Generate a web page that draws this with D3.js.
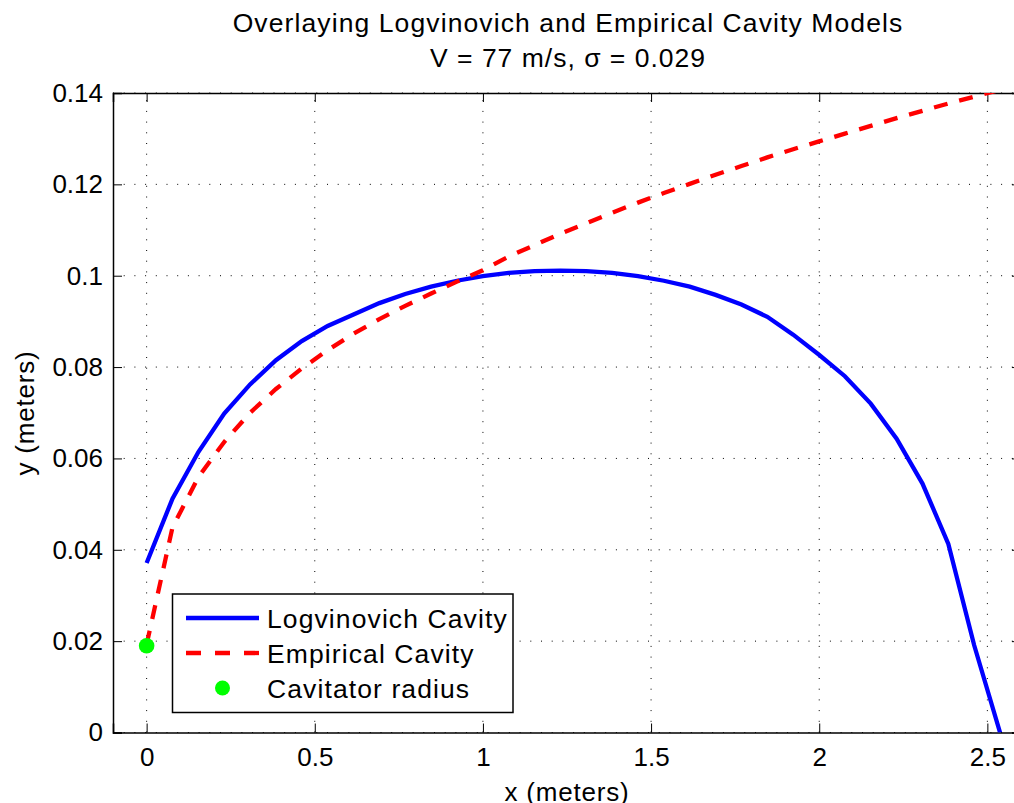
<!DOCTYPE html>
<html>
<head>
<meta charset="utf-8">
<script src="https://d3js.org/d3.v7.min.js"></script>
<style>
  body { margin: 0; background: #fff; }
  text { font-family: "Liberation Sans", Arial, Helvetica, sans-serif; fill: #000; }
</style>
</head>
<body>
<div id="chart"></div>
<script>
// x positions along the cavity (m)
var xVals = [0, 0.0769, 0.1538, 0.2307, 0.3076, 0.3845, 0.4614, 0.5383, 0.6152, 0.6921,
  0.769, 0.8459, 0.9228, 0.9997, 1.0766, 1.1535, 1.2304, 1.3073, 1.3842, 1.4611,
  1.538, 1.6149, 1.6918, 1.7687, 1.8456, 1.9225, 1.9994, 2.0763, 2.1532, 2.2301,
  2.307, 2.3839, 2.4608, 2.5377];

var logvinovich = [0.0371, 0.0512, 0.0614, 0.0698, 0.0762, 0.0815, 0.0857, 0.0890, 0.0915, 0.0940,
  0.0960, 0.0976, 0.0989, 0.0999, 0.1006, 0.1010, 0.1011, 0.1010, 0.1006, 0.0999,
  0.0989, 0.0976, 0.0958, 0.0937, 0.0910, 0.0871, 0.0827, 0.0780, 0.0720, 0.0643,
  0.0545, 0.0413, 0.0191, 0.0];

var empirical = [0.0193, 0.0449, 0.0559, 0.0636, 0.0700, 0.0752, 0.0797, 0.0837, 0.0873, 0.0905,
  0.0934, 0.0961, 0.0987, 0.1012, 0.1042, 0.1067, 0.1092, 0.1115, 0.1138, 0.1160,
  0.1181, 0.1201, 0.1221, 0.1240, 0.1259, 0.1277, 0.1294, 0.1311, 0.1328, 0.1345,
  0.1361, 0.1377, 0.1392, 0.1407];

var cavitator = [{x: 0, y: 0.019}];

var xTicks = [0, 0.5, 1, 1.5, 2, 2.5];
var xTickLabels = ["0", "0.5", "1", "1.5", "2", "2.5"];
var yTicks = [0, 0.02, 0.04, 0.06, 0.08, 0.1, 0.12, 0.14];
var yTickLabels = ["0", "0.02", "0.04", "0.06", "0.08", "0.1", "0.12", "0.14"];

var svgWidth = 1014;
var svgHeight = 803;

var svg = d3.select("#chart")
  .append("svg")
  .attr("width", svgWidth)
  .attr("height", svgHeight);

// axes box runs past the right edge of the picture, like the original
var x = d3.scaleLinear().domain([-0.1, 2.6]).range([113, 1021]);
var y = d3.scaleLinear().domain([0, 0.14]).range([732.5, 93]);

svg.append("defs").append("clipPath")
  .attr("id", "plotClip")
  .append("rect")
  .attr("x", x(-0.1))
  .attr("y", y(0.14))
  .attr("width", x(2.6) - x(-0.1))
  .attr("height", y(0) - y(0.14));

// dotted grid
var grid = svg.append("g").attr("class", "grid");
grid.selectAll("line.gx")
  .data(xTicks)
  .enter()
  .append("line")
  .attr("x1", d => x(d))
  .attr("x2", d => x(d))
  .attr("y1", y(0))
  .attr("y2", y(0.14))
  .attr("stroke", "#000")
  .attr("stroke-width", 1)
  .attr("stroke-dasharray", "1,9.7");
grid.selectAll("line.gy")
  .data(yTicks)
  .enter()
  .append("line")
  .attr("x1", x(-0.1))
  .attr("x2", x(2.6))
  .attr("y1", d => y(d))
  .attr("y2", d => y(d))
  .attr("stroke", "#000")
  .attr("stroke-width", 1)
  .attr("stroke-dasharray", "1,9.7");

// axes with inward ticks on all sides
var bottomAxis = d3.axisBottom(x).tickValues(xTicks).tickSize(-9).tickPadding(15)
  .tickFormat((d, i) => xTickLabels[i]);
var topAxis = d3.axisTop(x).tickValues(xTicks).tickSize(-9).tickFormat("");
var leftAxis = d3.axisLeft(y).tickValues(yTicks).tickSize(-9).tickPadding(10)
  .tickFormat((d, i) => yTickLabels[i]);
var rightAxis = d3.axisRight(y).tickValues(yTicks).tickSize(-9).tickFormat("");

svg.append("g").attr("transform", `translate(0, ${y(0)})`).call(bottomAxis);
svg.append("g").attr("transform", `translate(0, ${y(0.14)})`).call(topAxis);
svg.append("g").attr("transform", `translate(${x(-0.1)}, 0)`).call(leftAxis);
svg.append("g").attr("transform", `translate(${x(2.6)}, 0)`).call(rightAxis);

svg.selectAll(".domain").attr("stroke", "#000").attr("stroke-width", 1.5);
svg.selectAll(".tick line").attr("stroke", "#000").attr("stroke-width", 1);
svg.selectAll(".tick text")
  .attr("font-size", 26)
  .attr("font-family", "Liberation Sans, Arial, sans-serif")
  .attr("fill", "#000");

// curves
var plot = svg.append("g").attr("clip-path", "url(#plotClip)");

var line = d3.line()
  .x(d => x(d[0]))
  .y(d => y(d[1]));

plot.append("path")
  .datum(d3.zip(xVals, logvinovich))
  .attr("d", line)
  .attr("fill", "none")
  .attr("stroke", "#0000ff")
  .attr("stroke-width", 4.3);

plot.append("path")
  .datum(d3.zip(xVals, empirical))
  .attr("d", line)
  .attr("fill", "none")
  .attr("stroke", "#ff0000")
  .attr("stroke-width", 4.3)
  .attr("stroke-dasharray", "14,12");

plot.selectAll("circle")
  .data(cavitator)
  .enter()
  .append("circle")
  .attr("cx", d => x(d.x))
  .attr("cy", d => y(d.y))
  .attr("r", 7.8)
  .attr("fill", "#00ff00");

// legend
var legend = svg.append("g");
legend.append("rect")
  .attr("x", 172.5)
  .attr("y", 594)
  .attr("width", 340.5)
  .attr("height", 118.5)
  .attr("fill", "#fff")
  .attr("stroke", "#000")
  .attr("stroke-width", 1.5);

var legendItems = ["Logvinovich Cavity", "Empirical Cavity", "Cavitator radius"];
var legendRows = [618, 653, 688];

legend.append("line")
  .attr("x1", 186).attr("x2", 259)
  .attr("y1", legendRows[0]).attr("y2", legendRows[0])
  .attr("stroke", "#0000ff").attr("stroke-width", 4.3);
legend.append("line")
  .attr("x1", 186).attr("x2", 259)
  .attr("y1", legendRows[1]).attr("y2", legendRows[1])
  .attr("stroke", "#ff0000").attr("stroke-width", 4.3)
  .attr("stroke-dasharray", "15,14");
legend.append("circle")
  .attr("cx", 222.5).attr("cy", legendRows[2])
  .attr("r", 7.5).attr("fill", "#00ff00");

legend.selectAll("text")
  .data(legendItems)
  .enter()
  .append("text")
  .attr("x", 267)
  .attr("y", (d, i) => legendRows[i])
  .attr("dy", "0.36em")
  .attr("font-size", 26.5)
  .attr("letter-spacing", 1.1)
  .text(d => d);

// title and axis labels
svg.append("text")
  .attr("x", 568)
  .attr("y", 32)
  .attr("text-anchor", "middle")
  .attr("font-size", 26.5)
  .attr("letter-spacing", 1.1)
  .text("Overlaying Logvinovich and Empirical Cavity Models");

svg.append("text")
  .attr("x", 568)
  .attr("y", 67)
  .attr("text-anchor", "middle")
  .attr("font-size", 26.5)
  .attr("letter-spacing", 1)
  .text("V = 77 m/s, \u03c3 = 0.029");

svg.append("text")
  .attr("x", 567)
  .attr("y", 801)
  .attr("text-anchor", "middle")
  .attr("font-size", 26)
  .attr("letter-spacing", 0.8)
  .text("x (meters)");

svg.append("text")
  .attr("transform", `translate(34, 413) rotate(-90)`)
  .attr("text-anchor", "middle")
  .attr("font-size", 26)
  .attr("letter-spacing", 0.8)
  .text("y (meters)");
</script>
</body>
</html>
